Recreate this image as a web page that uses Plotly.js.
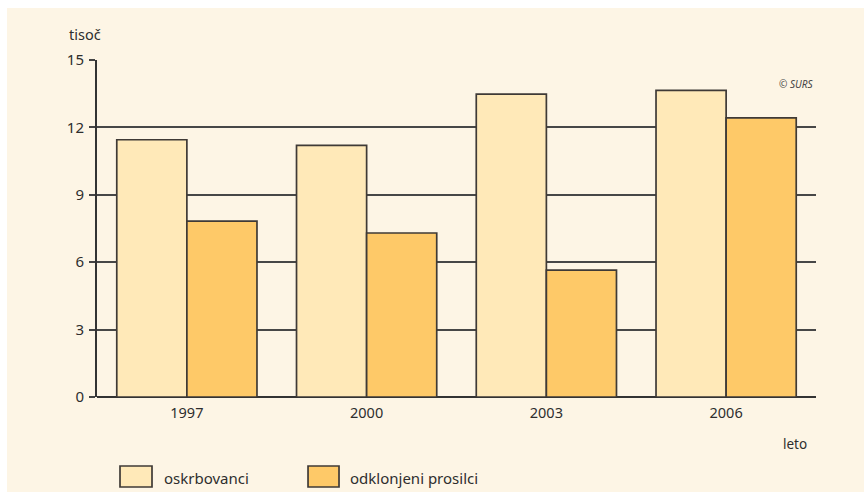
<!DOCTYPE html>
<html>
<head>
<meta charset="utf-8">
<script src="https://cdn.plot.ly/plotly-3.0.1.min.js"></script>
<style>
  html, body { margin: 0; padding: 0; background: #ffffff; }
  #chart { position: absolute; left: 7px; top: 8px; width: 857px; height: 484px; }
</style>
</head>
<body>
<div id="chart"></div>
<script>
const years = ['1997', '2000', '2003', '2006'];
const oskrbovanci = [11.45, 11.2, 13.48, 13.65];
const odklonjeni = [7.83, 7.3, 5.65, 12.42];
const seriesNames = ['oskrbovanci', 'odklonjeni prosilci'];
const yTicks = [0, 3, 6, 9, 12, 15];

const lightFill = '#ffe9b8';
const darkFill = '#fec968';
const edge = '#3f3a36';
const textCol = '#2e2e2e';
const font = 'Noto Sans, Open Sans, sans-serif';

const traces = [
  { type: 'bar', x: years, y: oskrbovanci, name: seriesNames[0],
    marker: { color: lightFill, line: { color: edge, width: 1.7 } }, hoverinfo: 'x+y' },
  { type: 'bar', x: years, y: odklonjeni, name: seriesNames[1],
    marker: { color: darkFill, line: { color: edge, width: 1.7 } }, hoverinfo: 'x+y' }
];

const layout = {
  width: 857, height: 484,
  margin: { l: 90, r: 48, t: 52, b: 95 },
  paper_bgcolor: '#fdf5e5',
  plot_bgcolor: '#fdf5e5',
  barmode: 'group',
  bargap: 0.22,
  bargroupgap: 0,
  showlegend: false,
  font: { family: font, color: textCol, size: 14 },
  xaxis: {
    type: 'category',
    range: [-0.5, 3.5],
    showgrid: false, showline: false, ticks: '',
    tickfont: { size: 14.5, color: textCol },
    ticklabelstandoff: 5,
    zeroline: false
  },
  yaxis: {
    range: [0, 15],
    tickvals: yTicks,
    ticks: 'outside', ticklen: 6, tickwidth: 2, tickcolor: '#444',
    showline: true, linecolor: '#333', linewidth: 2,
    showgrid: true, gridcolor: '#474747', gridwidth: 2,
    zeroline: true, zerolinecolor: '#333', zerolinewidth: 2,
    tickfont: { size: 15, color: textCol },
    ticklabelstandoff: 2
  },
  shapes: [
    { type: 'rect', xref: 'paper', yref: 'paper', x0: 0.032, x1: 0.0765, y0: -0.267, y1: -0.2047,
      fillcolor: lightFill, line: { color: edge, width: 1.7 } },
    { type: 'rect', xref: 'paper', yref: 'paper', x0: 0.2935, x1: 0.3366, y0: -0.267, y1: -0.2047,
      fillcolor: darkFill, line: { color: edge, width: 1.7 } }
  ],
  annotations: [
    { text: seriesNames[0], xref: 'paper', yref: 'paper', x: 0.0904, y: -0.2404, xanchor: 'left', yanchor: 'middle',
      showarrow: false, font: { size: 15, color: textCol } },
    { text: seriesNames[1], xref: 'paper', yref: 'paper', x: 0.349, y: -0.2404, xanchor: 'left', yanchor: 'middle',
      showarrow: false, font: { size: 15, color: textCol } },
    { text: 'tisoč', xref: 'paper', yref: 'paper', x: -0.042, y: 1.077, xanchor: 'left', yanchor: 'middle',
      showarrow: false, font: { size: 14.5, color: textCol } },
    { text: 'leto', xref: 'paper', yref: 'paper', x: 0.952, y: -0.1395, xanchor: 'left', yanchor: 'middle',
      showarrow: false, font: { size: 13.5, color: textCol } },
    { text: '<i>© SURS</i>', xref: 'paper', yref: 'paper', x: 0.9986, y: 0.929, xanchor: 'right', yanchor: 'middle',
      showarrow: false, font: { size: 10, color: '#444' } }
  ]
};

Plotly.newPlot('chart', traces, layout, { displayModeBar: false, staticPlot: true });
</script>
</body>
</html>
